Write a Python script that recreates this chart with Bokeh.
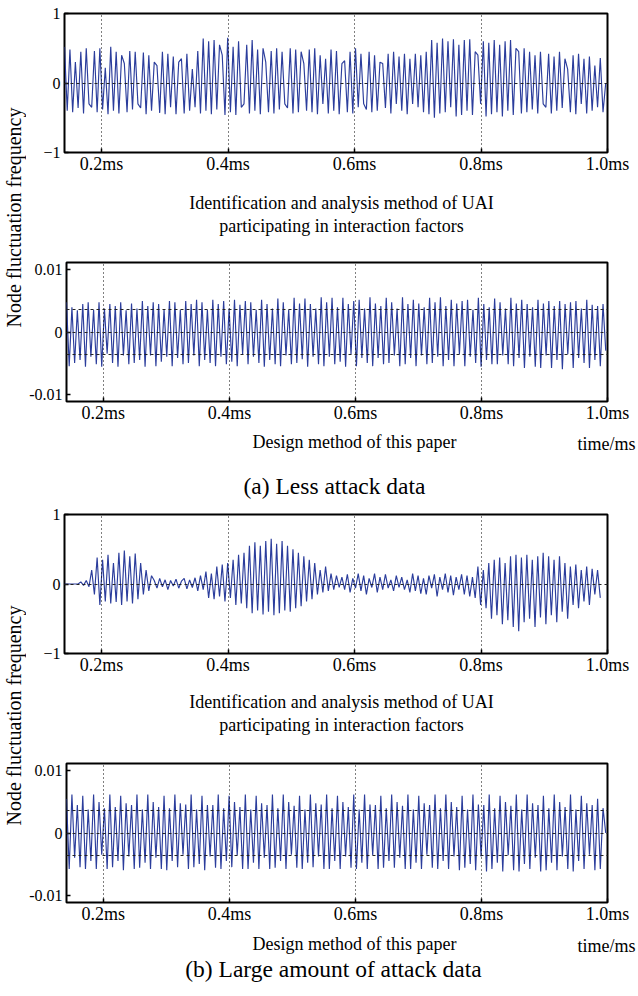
import numpy as np
from bokeh.plotting import figure
from bokeh.models import Range1d, FixedTicker, Label, PrintfTickFormatter
from bokeh.layouts import column, row
from bokeh.embed import file_html
from bokeh.resources import INLINE

# ---------------- data ----------------
T_START = 0.1415          # ms, left edge of each panel
T_STEP = 0.0043           # ms between samples
X_TICKS = [0.2, 0.4, 0.6, 0.8, 1.0]
Y_TICKS_BIG = [-1, 0, 1]
Y_TICKS_SMALL = [-0.01, 0, 0.01]
Y_LABELS_SMALL = {-0.01: "-0.01", 0: "0", 0.01: "0.01"}
Y_GRID_SMALL = [-0.0037, 0, 0.0037]

# (a) less attack data, UAI method, values x0.01
less_uai = [
    52, -40, 48, -42, 30, -36, 45, -44, 50, -30,
    -35, 46, -42, 50, -38, 22, -45, 52, -40, 45,
    -44, 40, 28, -42, 46, -38, 45, -30, -36, 44,
    -45, 40, -40, 30, 25, -43, 45, -45, 42, -35,
    38, -45, 30, 35, -44, 42, -40, 20, -35, 46,
    -44, 64, -40, 60, -45, 62, -38, 55, 40, -46,
    65, -42, 52, -46, 60, -35, -30, 55, -44, 62,
    -40, 48, -45, 50, 30, -42, 46, -44, 50, -38,
    45, -30, -36, 50, -44, 48, -42, 45, 28, -40,
    48, -42, 50, -45, 40, -30, 35, -44, 48, -40,
    46, -45, 28, 32, -42, 45, -44, 50, -35, 42,
    -30, -38, 45, -42, 40, -40, 30, 28, -36, 42,
    -44, 45, -30, 38, -40, 42, -45, 35, -30, 42,
    -35, 40, -42, 45, -45, 62, -50, 58, -44, 64,
    -42, 60, -35, 63, -48, 55, -46, 62, -40, 63,
    -46, 45, 40, -30, 60, -48, 58, -45, 62, -42,
    55, -48, 60, -40, 62, -46, 50, 45, -44, 50,
    -42, 45, -38, 40, -44, 45, -30, -35, 42, -44,
    38, -40, 45, -36, 35, 20, -42, 40, -45, 42,
    -30, 35, -44, 38, -40, 25, -35, 36, -42, 0,
]

# (a) less attack data, this paper, values x0.0001
less_ours = [
    48, -55, 40, -50, 35, -45, 45, -56, 48, -40,
    36, -52, 48, -56, 38, -35, 45, -50, 42, -56,
    48, -38, 35, -52, 46, -50, 38, -45, 50, -56,
    42, -38, 48, -55, 45, -48, 36, -40, 50, -55,
    48, -42, 36, -52, 50, -50, 45, -38, 52, -55,
    48, -45, 36, -50, 52, -55, 45, -40, 50, -52,
    38, -48, 52, -55, 44, -36, 50, -52, 48, -40,
    36, -50, 52, -56, 45, -45, 38, -52, 54, -55,
    48, -38, 36, -52, 55, -50, 46, -44, 54, -56,
    45, -40, 38, -52, 56, -55, 48, -40, 55, -52,
    40, -48, 55, -56, 45, -36, 50, -55, 52, -42,
    38, -50, 56, -55, 46, -42, 42, -52, 55, -50,
    48, -38, 38, -55, 56, -52, 45, -42, 52, -55,
    46, -38, 40, -52, 55, -50, 48, -40, 56, -55,
    42, -45, 52, -55, 46, -36, 50, -55, 52, -40,
    36, -50, 55, -56, 45, -45, 40, -52, 54, -52,
    48, -38, 38, -52, 55, -55, 46, -42, 52, -58,
    45, -40, 40, -56, 52, -58, 46, -38, 50, -58,
    42, -45, 50, -60, 45, -36, 48, -58, 50, -42,
    38, -50, 52, -58, 44, -45, 42, -55, 45, -30,
]

# (b) large amount of attack data, UAI method, values x0.01
large_uai = [
    0, 0, 0, 0, 0, 0, 3, -2, 5, -4,
    20, -15, 38, -30, 35, -25, 42, -28, 30, -26,
    45, -30, 48, -25, 40, -28, 44, -22, 30, -15,
    20, -10, 12, 5, -6, 8, -4, 6, -8, 5,
    -3, 7, -6, 4, 8, -7, 6, -5, 9, -10,
    12, -8, 18, -20, 15, -22, 25, -18, 28, -25,
    30, -20, 35, -30, 42, -28, 45, -35, 55, -42,
    60, -38, 55, -44, 62, -40, 65, -45, 58, -42,
    62, -38, 55, -40, 50, -35, 45, -32, 40, -25,
    35, -22, 30, -15, 20, -12, 25, -10, 15, -8,
    12, -5, 10, -8, 14, -12, 8, -6, 15, -10,
    12, -15, 8, -5, 15, -12, 10, -8, 14, -6,
    6, -10, 12, -5, 10, -8, 6, -12, 15, -10,
    12, -14, 8, -15, 12, -6, 14, -18, 10, -8,
    15, -12, 12, -16, 10, -8, 14, -15, 12, -18,
    10, -20, 25, -30, 20, -35, 30, -50, 35, -45,
    38, -58, 30, -52, 40, -62, 42, -68, 38, -55,
    42, -50, 35, -62, 40, -48, 45, -58, 40, -45,
    35, -55, 40, -40, 30, -50, 25, -30, 28, -35,
    20, -25, 25, -30, 22, -15, 20, -20,
]

# (b) large amount of attack data, this paper, values x0.0001
large_ours = [
    55, -58, 62, -40, 45, -55, 60, -58, 38, -45,
    62, -58, 50, -35, 40, -58, 62, -55, 42, -45,
    60, -60, 48, -38, 45, -58, 62, -56, 38, -48,
    62, -58, 50, -40, 42, -58, 60, -60, 40, -45,
    62, -55, 48, -35, 46, -58, 62, -55, 38, -50,
    60, -60, 45, -38, 45, -56, 62, -58, 40, -45,
    60, -55, 50, -36, 42, -58, 62, -58, 38, -48,
    60, -58, 48, -40, 45, -58, 62, -56, 40, -45,
    62, -58, 50, -35, 44, -56, 60, -58, 38, -48,
    62, -55, 48, -38, 46, -58, 62, -58, 40, -45,
    60, -58, 50, -38, 42, -56, 62, -58, 38, -48,
    62, -58, 46, -36, 45, -58, 60, -56, 40, -45,
    62, -56, 50, -40, 44, -58, 62, -58, 38, -48,
    60, -58, 48, -35, 45, -56, 62, -58, 40, -45,
    62, -58, 50, -38, 42, -60, 60, -56, 38, -50,
    62, -60, 46, -38, 45, -62, 62, -58, 40, -48,
    60, -62, 50, -36, 44, -60, 62, -62, 38, -50,
    62, -58, 48, -40, 45, -62, 60, -60, 40, -48,
    62, -60, 50, -38, 42, -58, 62, -62, 38, -45,
    60, -58, 48, -35, 45, -60, 55, -58, 40, 0,
]

# ---------------- styling ----------------
FONT = "Liberation Serif"
BLUE = "#2b3d9c"
LAB_W = 26
MAIN_W = 612
BORDER_L = 38
BORDER_R = 31
BORDER_B = 30


def lbl(text, x, y, size="18px", align="center", angle=0.0):
    return Label(x=x, y=y, x_units="screen", y_units="screen", text=text,
                 text_font=FONT, text_font_size=size, text_align=align,
                 text_baseline="middle", text_color="black", angle=angle)


def blank(width, height):
    q = figure(width=width, height=height, x_range=Range1d(0, 1), y_range=Range1d(0, 1),
               x_axis_type=None, y_axis_type=None, toolbar_location=None,
               output_backend="svg", min_border=0, outline_line_color=None,
               frame_align=False)
    q.grid.visible = False
    return q


def panel(values, unit, y_lim, yticks, ylabels, ygrid, top):
    t = T_START + T_STEP * np.arange(len(values))
    y = np.asarray(values, dtype=float) * unit
    p = figure(width=MAIN_W, height=top + 139 + BORDER_B,
               x_range=Range1d(T_START, 1.0), y_range=Range1d(-y_lim, y_lim),
               output_backend="svg", toolbar_location=None,
               min_border_left=BORDER_L, min_border_right=BORDER_R,
               min_border_top=top, min_border_bottom=BORDER_B,
               background_fill_color="white", border_fill_color="white",
               frame_align=False)
    p.line(t, y, line_color=BLUE, line_width=1.15)

    p.outline_line_color = "black"
    p.outline_line_width = 2

    xa = p.xaxis[0]
    xa.ticker = FixedTicker(ticks=X_TICKS)
    xa.formatter = PrintfTickFormatter(format="%.1fms")
    ya = p.yaxis[0]
    ya.ticker = FixedTicker(ticks=yticks)
    if ylabels:
        ya.major_label_overrides = ylabels
    for ax, fs, so in ((xa, "18px", 1), (ya, "16px", 4)):
        ax.axis_line_color = None
        ax.major_tick_in = 4
        ax.major_tick_out = 0
        ax.major_tick_line_width = 1.5
        ax.minor_tick_line_color = None
        ax.major_label_text_font = FONT
        ax.major_label_text_font_size = fs
        ax.major_label_text_color = "black"
        ax.major_label_standoff = so

    p.xgrid.ticker = FixedTicker(ticks=X_TICKS[:-1])
    p.xgrid.grid_line_color = "black"
    p.xgrid.grid_line_dash = "1 3"
    p.xgrid.grid_line_width = 1
    p.ygrid.ticker = FixedTicker(ticks=ygrid)
    p.ygrid.grid_line_color = "#222222"
    p.ygrid.grid_line_dash = "3 3"
    p.ygrid.grid_line_width = 1
    p.xgrid.level = "overlay"
    p.ygrid.level = "overlay"
    return p


# ---- half (a): page rows 0..505 ----
f1 = panel(less_uai, 0.01, 1.0, Y_TICKS_BIG, None, [0], 13)            # 0..182
s1 = blank(MAIN_W, 68)                                                  # 182..250
s1.add_layout(lbl("Identification and analysis method of UAI", 315, 48))
s1.add_layout(lbl("participating in interaction factors", 315, 25))
f2 = panel(less_ours, 0.0001, 0.0112, Y_TICKS_SMALL, Y_LABELS_SMALL, Y_GRID_SMALL, 12)  # 250..431
s2 = blank(MAIN_W, 74)                                                  # 431..505
s2.add_layout(lbl("Design method of this paper", 328, 64))
s2.add_layout(lbl("time/ms", 609, 62, align="right"))
s2.add_layout(lbl("(a) Less attack data", 308, 20, size="23.5px"))

# ---- half (b): page rows 505..996 ----
f3 = panel(large_uai, 0.01, 1.0, Y_TICKS_BIG, None, [0], 9)            # 505..683
s3 = blank(MAIN_W, 68)                                                  # 683..751
s3.add_layout(lbl("Identification and analysis method of UAI", 315, 50))
s3.add_layout(lbl("participating in interaction factors", 315, 27))
f4 = panel(large_ours, 0.0001, 0.0112, Y_TICKS_SMALL, Y_LABELS_SMALL, Y_GRID_SMALL, 12)  # 751..932
s4 = blank(MAIN_W, 64)                                                  # 932..996
s4.add_layout(lbl("Design method of this paper", 328, 53))
s4.add_layout(lbl("time/ms", 609, 51, align="right"))
s4.add_layout(lbl("(b) Large amount of attack data", 307, 28, size="23.5px"))

lab_a = blank(LAB_W, 505)
lab_a.add_layout(lbl("Node fluctuation frequency", 13, 288, size="20px", angle=np.pi / 2))
lab_b = blank(LAB_W, 491)
lab_b.add_layout(lbl("Node fluctuation frequency", 13, 281, size="20px", angle=np.pi / 2))

layout = column(row(lab_a, column(f1, s1, f2, s2)),
                row(lab_b, column(f3, s3, f4, s4)))

open("out.html", "w").write(file_html(layout, INLINE))
